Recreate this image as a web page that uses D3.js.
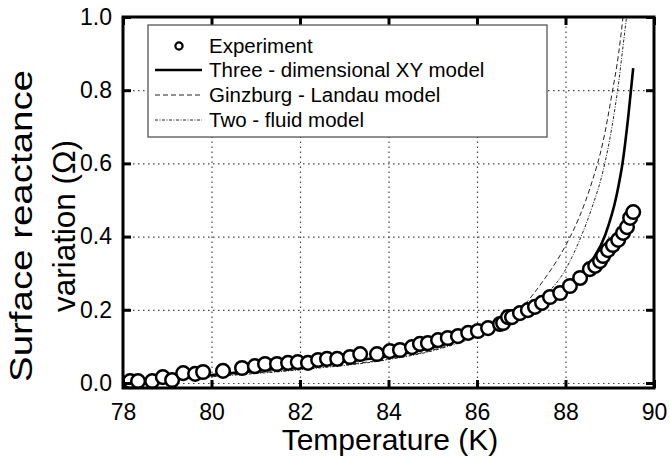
<!DOCTYPE html>
<html><head><meta charset="utf-8">
<script src="https://cdn.jsdelivr.net/npm/d3@7"></script>
<style>
body{margin:0;background:#fff}
text{font-family:Arial,"Liberation Sans",sans-serif;fill:#000}
</style>
</head><body>
<svg id="chart" width="670" height="457"></svg>
<script>
// ---- data ----
const expT = [78.16,78.34,78.66,78.90,79.11,79.36,79.63,79.81,80.26,80.69,80.98,81.21,81.48,81.73,81.95,82.18,82.41,82.61,82.84,83.13,83.36,83.74,84.03,84.26,84.53,84.71,84.89,85.12,85.34,85.57,85.80,86.02,86.25,86.52,86.59,86.70,86.79,86.97,87.15,87.31,87.47,87.65,87.88,88.10,88.33,88.55,88.67,88.78,88.85,88.96,89.07,89.19,89.30,89.39,89.46,89.53];
const expY = [0.005,0.005,0.005,0.016,0.008,0.027,0.025,0.030,0.033,0.041,0.046,0.052,0.052,0.055,0.057,0.055,0.063,0.066,0.066,0.071,0.079,0.079,0.087,0.090,0.098,0.107,0.109,0.117,0.123,0.128,0.137,0.142,0.150,0.161,0.164,0.180,0.180,0.191,0.199,0.208,0.219,0.235,0.246,0.265,0.287,0.311,0.320,0.333,0.347,0.363,0.377,0.391,0.410,0.426,0.451,0.467];

const xyT = [78,79,80,81,82,83,84,85,86,86.5,87,87.5,88,88.5,88.9,89.15,89.3,89.42,89.53];
const xyY = [0.000,0.011,0.022,0.033,0.045,0.058,0.073,0.097,0.135,0.160,0.188,0.219,0.252,0.318,0.405,0.51,0.61,0.73,0.86];

const glT = [78,80,82,84,85,86,86.5,87,87.5,88,88.3,88.6,88.85,89.05,89.2,89.3];
const glY = [0,0.018,0.038,0.066,0.09,0.132,0.162,0.205,0.28,0.375,0.45,0.55,0.66,0.79,0.9,1.0];

const tfT = [78,80,82,84,85,86,86.5,87,87.5,88,88.3,88.6,88.85,89.05,89.2,89.3,89.4];
const tfY = [0,0.017,0.036,0.064,0.088,0.128,0.156,0.19,0.235,0.31,0.385,0.48,0.58,0.70,0.82,0.92,1.02];

const xTicks = [78,80,82,84,86,88,90];
const yTicks = [0.0,0.2,0.4,0.6,0.8,1.0];
const legendLabels = ["Experiment","Three - dimensional XY model","Ginzburg - Landau model","Two - fluid model"];
const xTitle = "Temperature (K)";
const yTitle = ["Surface reactance","variation (\u03A9)"];

// ---- layout ----
const L = 123, R = 654, T = 17, B = 388;
const svg = d3.select("#chart");
const x = d3.scaleLinear().domain([78,90]).range([L,R]);
const y = d3.scaleLinear().domain([-0.0137,1]).range([B,T]);

svg.append("defs").append("clipPath").attr("id","clip")
  .append("rect").attr("x",L).attr("y",T).attr("width",R-L).attr("height",B-T);

// grid
const gridX = svg.append("g").attr("transform",`translate(0,${B})`)
  .call(d3.axisBottom(x).tickValues(xTicks.slice(1,-1)).tickSize(-(B-T)).tickFormat(""));
gridX.select(".domain").remove();
gridX.selectAll("line").attr("stroke","#444").attr("stroke-width",1.2).attr("stroke-dasharray","1.5,3.5");
const gridY = svg.append("g").attr("transform",`translate(${L},0)`)
  .call(d3.axisLeft(y).tickValues(yTicks.slice(0,-1)).tickSize(-(R-L)).tickFormat(""));
gridY.select(".domain").remove();
gridY.selectAll("line").attr("stroke","#444").attr("stroke-width",1.2).attr("stroke-dasharray","1.5,3.5");

// curves
const line = d3.line().x(d=>x(d[0])).y(d=>y(d[1])).curve(d3.curveMonotoneX);
const cg = svg.append("g").attr("clip-path","url(#clip)");
cg.append("path").datum(glT.map((t,i)=>[t,glY[i]])).attr("d",line)
  .attr("fill","none").attr("stroke","#222").attr("stroke-width",1).attr("stroke-dasharray","5,3");
cg.append("path").datum(tfT.map((t,i)=>[t,tfY[i]])).attr("d",line)
  .attr("fill","none").attr("stroke","#222").attr("stroke-width",1).attr("stroke-dasharray","3,1.5,1,1.5");
cg.append("path").datum(xyT.map((t,i)=>[t,xyY[i]])).attr("d",line)
  .attr("fill","none").attr("stroke","#000").attr("stroke-width",2.6);

// experiment points
svg.append("g").selectAll("circle").data(expT.map((t,i)=>[t,expY[i]])).join("circle")
  .attr("cx",d=>x(d[0])).attr("cy",d=>y(d[1])).attr("r",6.8)
  .attr("fill","#fff").attr("stroke","#000").attr("stroke-width",2.5);

// axes (ticks inward)
function styleAxis(g){ g.select(".domain").remove(); g.selectAll("line").attr("stroke","#000").attr("stroke-width",3); }
const ax = svg.append("g").attr("transform",`translate(0,${B})`)
  .call(d3.axisBottom(x).tickValues(xTicks).tickSize(-8).tickPadding(16).tickFormat(d3.format("d")));
styleAxis(ax);
ax.selectAll("text").attr("font-size",23).attr("fill","#000");
const axT = svg.append("g").attr("transform",`translate(0,${T})`)
  .call(d3.axisTop(x).tickValues(xTicks).tickSize(-8).tickFormat(""));
styleAxis(axT);
const ay = svg.append("g").attr("transform",`translate(${L},0)`)
  .call(d3.axisLeft(y).tickValues(yTicks).tickSize(-8).tickPadding(11).tickFormat(d3.format(".1f")));
styleAxis(ay);
ay.selectAll("text").attr("font-size",23).attr("fill","#000");
const ayR = svg.append("g").attr("transform",`translate(${R},0)`)
  .call(d3.axisRight(y).tickValues(yTicks).tickSize(-8).tickFormat(""));
styleAxis(ayR);
svg.selectAll(".tick text").attr("font-family","Arial, 'Liberation Sans', sans-serif");

// frame
svg.append("rect").attr("x",L).attr("y",T).attr("width",R-L).attr("height",B-T)
  .attr("fill","none").attr("stroke","#000").attr("stroke-width",3);

// legend
const lg = svg.append("g");
lg.append("rect").attr("x",148).attr("y",25).attr("width",399).attr("height",112)
  .attr("fill","#fff").attr("stroke","#555").attr("stroke-width",1.3);
const rowY = [53,77,102,127];
lg.append("circle").attr("cx",179).attr("cy",rowY[0]-7).attr("r",3.6)
  .attr("fill","#fff").attr("stroke","#000").attr("stroke-width",2.2);
lg.append("line").attr("x1",155).attr("x2",202).attr("y1",rowY[1]-7).attr("y2",rowY[1]-7)
  .attr("stroke","#000").attr("stroke-width",2.6);
lg.append("line").attr("x1",155).attr("x2",202).attr("y1",rowY[2]-7).attr("y2",rowY[2]-7)
  .attr("stroke","#222").attr("stroke-width",1).attr("stroke-dasharray","5,3");
lg.append("line").attr("x1",155).attr("x2",202).attr("y1",rowY[3]-7).attr("y2",rowY[3]-7)
  .attr("stroke","#222").attr("stroke-width",1).attr("stroke-dasharray","3,1.5,1,1.5");
lg.selectAll("text.lt").data(legendLabels).join("text").attr("class","lt")
  .attr("x",209).attr("y",(d,i)=>rowY[i]).attr("font-size",20.5).text(d=>d);

// titles
svg.append("text").attr("x",390).attr("y",450).attr("text-anchor","middle")
  .attr("font-size",30).text(xTitle);
svg.append("text").attr("transform","translate(32,226) rotate(-90)").attr("text-anchor","middle")
  .attr("font-size",31).attr("textLength",312).attr("lengthAdjust","spacingAndGlyphs").text(yTitle[0]);
svg.append("text").attr("transform","translate(75,226) rotate(-90)").attr("text-anchor","middle")
  .attr("font-size",31).attr("textLength",172).attr("lengthAdjust","spacingAndGlyphs").text(yTitle[1]);
</script>
</body></html>
